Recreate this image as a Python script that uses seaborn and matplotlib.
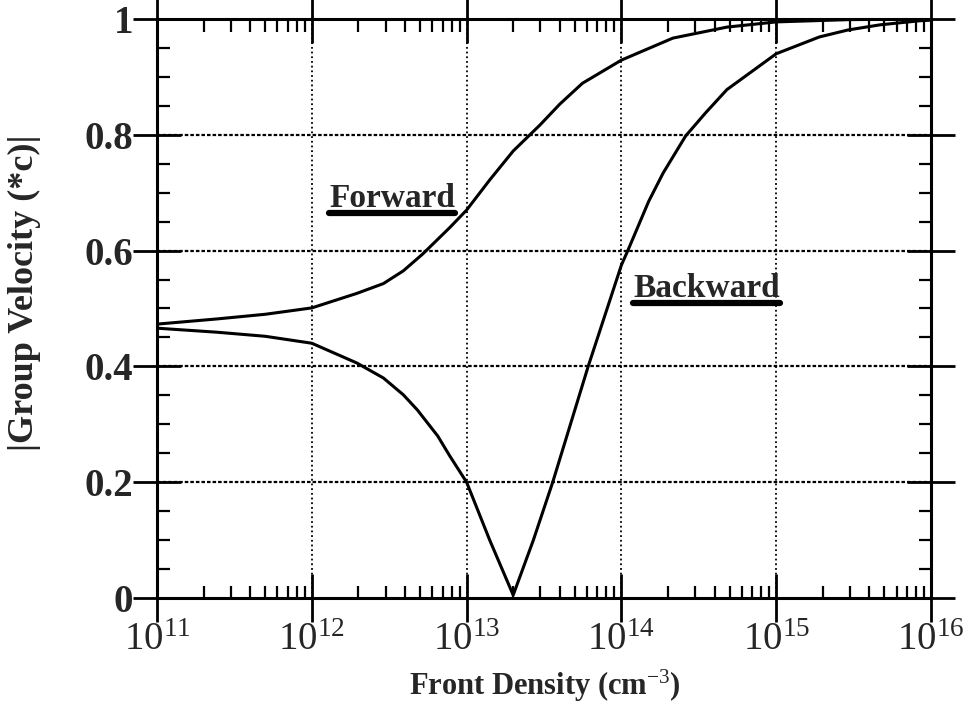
import numpy as np
import pandas as pd
import matplotlib
matplotlib.use("Agg")
import matplotlib.pyplot as plt
import seaborn as sns
from matplotlib.ticker import LogLocator, FixedLocator, MultipleLocator
from matplotlib.lines import Line2D

# ---- data ----
fwd_density = [1e11, 2.45e11, 5e11, 1e12, 1.95e12, 2.9e12, 3.9e12, 5.2e12,
               7.8e12, 1e13, 1.41e13, 2e13, 2.98e13, 4e13, 5.6e13, 1e14,
               2.15e14, 4.8e14, 1e15, 3e15, 1e16]
fwd_velocity = [0.473, 0.482, 0.490, 0.501, 0.526, 0.543, 0.565, 0.594,
                0.640, 0.670, 0.722, 0.772, 0.817, 0.853, 0.889, 0.929,
                0.967, 0.986, 0.995, 0.999, 1.0]

bwd_density = [1e11, 2.45e11, 5e11, 1e12, 1.95e12, 2.9e12, 3.9e12, 4.8e12,
               6.5e12, 7.8e12, 1e13, 1.41e13, 2e13, 2.7e13, 3.6e13, 6.1e13,
               1e14, 1.1e14, 1.5e14, 1.86e14, 2.6e14, 3.5e14, 4.8e14, 1e15,
               1.9e15, 2.9e15, 4.7e15, 8.5e15, 1e16]
bwd_velocity = [0.466, 0.459, 0.452, 0.440, 0.406, 0.380, 0.351, 0.325,
                0.280, 0.245, 0.200, 0.100, 0.005, 0.100, 0.200, 0.400,
                0.575, 0.600, 0.685, 0.734, 0.798, 0.838, 0.878, 0.940,
                0.969, 0.981, 0.990, 0.997, 0.998]

y_ticks = [0, 0.2, 0.4, 0.6, 0.8, 1.0]
y_ticklabels = ["0", "0.2", "0.4", "0.6", "0.8", "1"]
x_decades = [11, 12, 13, 14, 15, 16]

df = pd.concat([
    pd.DataFrame({"density": fwd_density, "velocity": fwd_velocity, "dir": "Forward"}),
    pd.DataFrame({"density": bwd_density, "velocity": bwd_velocity, "dir": "Backward"}),
])

sns.set_style("white")
plt.rcParams["font.family"] = ["Liberation Serif", "DejaVu Serif"]
plt.rcParams["mathtext.fontset"] = "custom"
plt.rcParams["mathtext.rm"] = "Liberation Serif"
plt.rcParams["mathtext.it"] = "Liberation Serif:italic"
plt.rcParams["mathtext.bf"] = "Liberation Serif:bold"

fig = plt.figure(figsize=(9.66, 7.04), dpi=100)
ax = fig.add_axes([0.1625, 0.1506, 0.8013, 0.8224])

sns.lineplot(data=df, x="density", y="velocity", units="dir", estimator=None,
             color="black", linewidth=2.2, sort=False, ax=ax, legend=False)

ax.set_xscale("log")
ax.set_xlim(1e11, 1e16)
ax.set_ylim(0, 1)

# grid: dotted lines, horizontals a bit denser
for d in x_decades[1:-1]:
    ax.axvline(10.0 ** d, color="black", lw=1.3, ls=(0, (1, 1.6)), zorder=1)
for yv in y_ticks[1:-1]:
    ax.axhline(yv, color="black", lw=1.6, ls=(0, (1.6, 0.9)), zorder=1)

ax.xaxis.set_major_locator(FixedLocator([10.0 ** d for d in x_decades]))
ax.xaxis.set_minor_locator(LogLocator(base=10, subs=np.arange(2, 10), numticks=100))
ax.set_xticklabels([f"10$^{{{d}}}$" for d in x_decades])
ax.set_yticks(y_ticks)
ax.set_yticklabels(y_ticklabels, fontweight="bold")
ax.yaxis.set_minor_locator(MultipleLocator(0.05))

ax.tick_params(which="both", bottom=True, top=True, left=True, right=True)
ax.tick_params(which="major", direction="inout", length=34, width=2, color="black")
ax.tick_params(axis="y", which="major", pad=0, labelsize=28)
ax.tick_params(axis="x", which="major", pad=0, labelsize=28)
ax.tick_params(which="minor", direction="in", length=9, width=1.6, color="black")

for s in ax.spines.values():
    s.set_linewidth(2.2)
    s.set_color("black")

ax.set_xlabel("Front Density (cm$^{-3}$)", fontsize=22, fontweight="bold")
ax.set_ylabel("|Group Velocity (*c)|", fontsize=26, fontweight="bold")
ax.xaxis.set_label_coords(0.501, -0.12)
ax.yaxis.set_label_coords(-0.150, 0.527)

t1 = ax.text(1.3e12, 0.675, "Forward", fontsize=24, fontweight="bold", va="baseline")
t2 = ax.text(1.19e14, 0.52, "Backward", fontsize=24, fontweight="bold", va="baseline")

# thick underlines beneath the curve labels
fig.canvas.draw()
inv = ax.transAxes.inverted()
for t in (t1, t2):
    bb = t.get_window_extent()
    (x0, y0), (x1, _) = inv.transform([(bb.x0, bb.y0 + 1), (bb.x1, bb.y0)])
    ax.add_line(Line2D([x0, x1], [y0, y0], transform=ax.transAxes,
                       color="black", lw=4.5, solid_capstyle="round"))

fig.savefig("out.png", dpi=100)
